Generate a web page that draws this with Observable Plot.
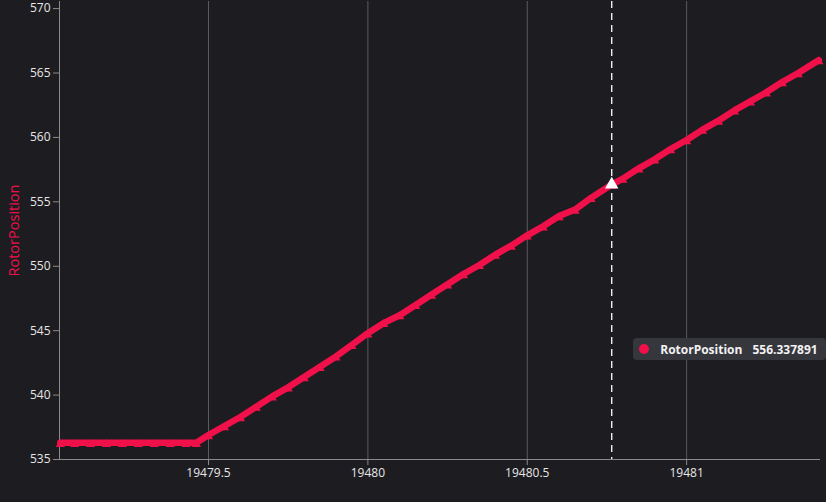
<!DOCTYPE html>
<html>
<head>
<meta charset="utf-8">
<script src="https://cdn.jsdelivr.net/npm/d3@7"></script>
<script src="https://cdn.jsdelivr.net/npm/@observablehq/plot@0.6"></script>
<style>
  html, body { margin: 0; padding: 0; background: #1d1c21; }
  #wrap { position: relative; width: 826px; height: 502px; overflow: hidden; }
  #tip {
    position: absolute; height: 22px; box-sizing: border-box;
    background: #36363d; border-radius: 4px; color: #f2f2f2;
    font: bold 12px "Open Sans", "Noto Sans", sans-serif;
    display: flex; align-items: center; padding: 0 8px 0 6px; white-space: nowrap;
  }
  #tip .dot { width: 10px; height: 10px; border-radius: 50%; background: #f0104a; margin-right: 11px; }
  #tip .val { margin-left: 10px; }
</style>
</head>
<body>
<div id="wrap"></div>
<script>
// ---- data ----
const seriesName = "RotorPosition";
const times = [
  19479.035, 19479.08, 19479.13, 19479.18, 19479.23, 19479.28, 19479.33, 19479.38, 19479.43, 19479.462,
  19479.50, 19479.55, 19479.60, 19479.65, 19479.70, 19479.75, 19479.80, 19479.85, 19479.90, 19479.95,
  19480.00, 19480.05, 19480.10, 19480.15, 19480.20, 19480.25, 19480.30, 19480.35, 19480.40, 19480.45,
  19480.50, 19480.55, 19480.60, 19480.65, 19480.70, 19480.765, 19480.80, 19480.85, 19480.90, 19480.95,
  19481.00, 19481.05, 19481.10, 19481.15, 19481.20, 19481.25, 19481.30, 19481.35, 19481.415
];
const rotor = [
  536.3, 536.3, 536.3, 536.3, 536.3, 536.3, 536.3, 536.3, 536.3, 536.3,
  536.9, 537.6, 538.3, 539.1, 539.9, 540.6, 541.4, 542.2, 543.0, 543.9,
  544.8, 545.6, 546.2, 547.0, 547.8, 548.6, 549.4, 550.1, 550.9, 551.6,
  552.4, 553.1, 553.9, 554.4, 555.3, 556.337891, 556.8, 557.6, 558.3, 559.1,
  559.8, 560.6, 561.3, 562.1, 562.8, 563.5, 564.3, 565.0, 566.0
];
const cursorTime = 19480.765;
const cursorValue = 556.337891;
const xTicks = [19479.5, 19480, 19480.5, 19481];
const yTicks = [535, 540, 545, 550, 555, 560, 565, 570];
const xDomain = [19479.0325, 19481.42];
const yDomain = [535, 570.55];

const data = times.map((t, i) => ({t, v: rotor[i]}));
const red = "#f0104a";

const plot = Plot.plot({
  width: 826,
  height: 502,
  marginLeft: 59,
  marginRight: 6,
  marginTop: 1,
  marginBottom: 43,
  style: {background: "#1d1c21", color: "#e6e6e6", fontFamily: "'Open Sans', 'Noto Sans', sans-serif", fontSize: "12px"},
  x: {domain: xDomain, ticks: xTicks, tickFormat: d => String(d), label: null, tickSize: 6, tickPadding: 4},
  y: {domain: yDomain, ticks: yTicks, label: null, tickSize: 6, tickPadding: 3},
  marks: [
    Plot.ruleX(xTicks, {stroke: "#5a5a60", strokeWidth: 1, strokeOpacity: 1}),
    Plot.axisX({ticks: xTicks, tickFormat: d => String(d), stroke: "#8a8a8a", color: "#e6e6e6", tickSize: 6, label: null, fontSize: 12}),
    Plot.axisY({ticks: yTicks, stroke: "#8a8a8a", color: "#e6e6e6", tickSize: 6, label: null, fontSize: 12}),
    Plot.ruleX([xDomain[0]], {stroke: "#8a8a8a"}),
    Plot.ruleY([yDomain[0]], {stroke: "#8a8a8a"}),
    Plot.ruleX([cursorTime], {stroke: "#ffffff", strokeDasharray: "7,5", strokeWidth: 1.3}),
    Plot.line(data, {x: "t", y: "v", stroke: red, strokeWidth: 6.5, clip: false}),
    Plot.dot(data, {x: "t", y: "v", symbol: "triangle", r: 3.4, fill: red, dy: 1.5}),
    Plot.dot([{t: cursorTime, v: cursorValue}], {x: "t", y: "v", symbol: "triangle", r: 5, fill: "#ffffff"}),
    Plot.text([seriesName], {frameAnchor: "left", textAnchor: "middle", dx: -45, rotate: -90, fill: red, fontSize: 14.5, fontWeight: 500})
  ]
});

const wrap = document.getElementById("wrap");
wrap.appendChild(plot);

// tooltip positioned from the scales
const xs = plot.scale("x"), ys = plot.scale("y");
const tip = document.createElement("div");
tip.id = "tip";
tip.innerHTML = `<span class="dot"></span><span>${seriesName}</span><span class="val">${cursorValue}</span>`;
wrap.appendChild(tip);
const px = xs.apply(cursorTime);
tip.style.left = (px + 22) + "px";
tip.style.top = (ys.apply(545) + 8) + "px";
</script>
</body>
</html>
